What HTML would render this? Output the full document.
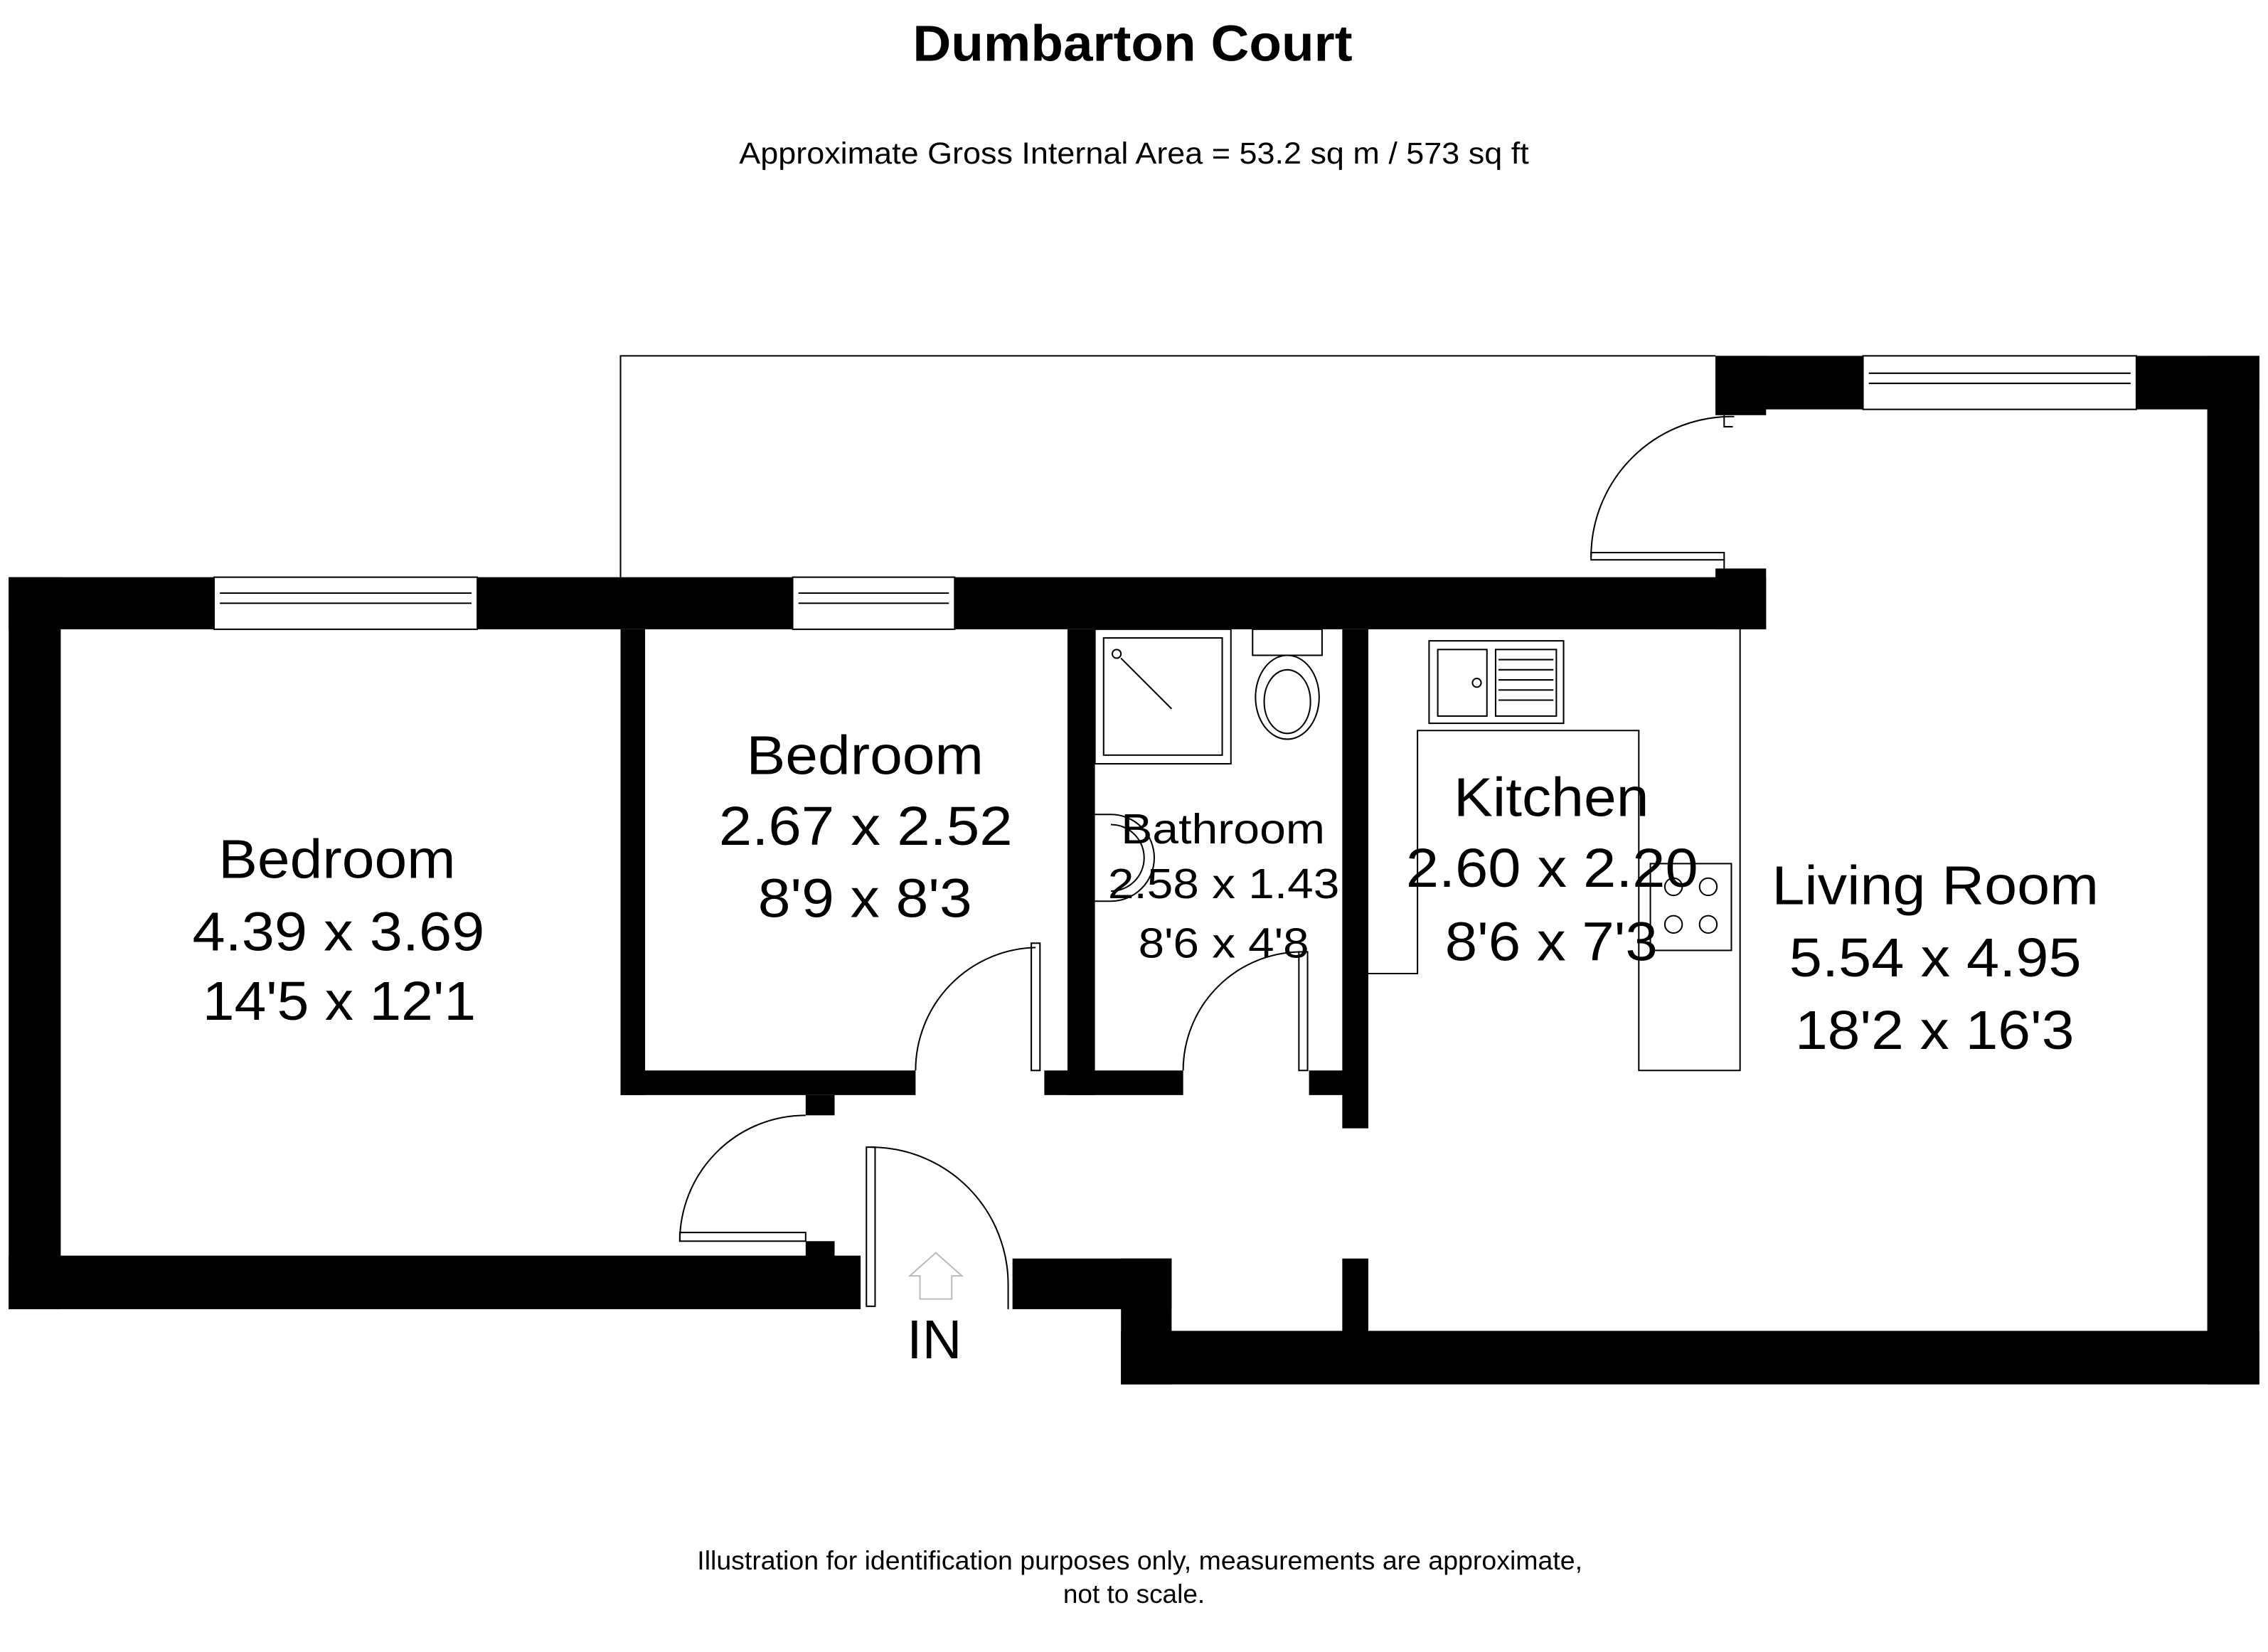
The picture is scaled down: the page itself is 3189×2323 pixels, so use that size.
<!DOCTYPE html>
<html><head><meta charset="utf-8"><style>html,body{margin:0;padding:0;background:#fff}svg{display:block}</style></head><body>
<svg width="3189" height="2323" viewBox="0 0 1568 1142" preserveAspectRatio="none" xmlns="http://www.w3.org/2000/svg" font-family="Liberation Sans, sans-serif">
<rect width="1568" height="1142" fill="#fff"/>
<text x="631" y="42" font-size="35" font-weight="bold" textLength="304" lengthAdjust="spacingAndGlyphs">Dumbarton Court</text>
<text x="511" y="113" font-size="21" textLength="546" lengthAdjust="spacingAndGlyphs">Approximate Gross Internal Area = 53.2 sq m / 573 sq ft</text>
<text x="482" y="1085" font-size="18" textLength="612" lengthAdjust="spacingAndGlyphs">Illustration for identification purposes only, measurements are approximate,</text>
<text x="735" y="1108" font-size="18" textLength="98" lengthAdjust="spacingAndGlyphs">not to scale.</text>
<path d="M429 399 V246 H1186" fill="none" stroke="#000" stroke-width="1"/>
<g fill="#000">
<rect x="6" y="399" width="1215" height="36"/>
<rect x="1186" y="393" width="35" height="42"/>
<rect x="6" y="399" width="36" height="506"/>
<rect x="6" y="868" width="589" height="37"/>
<rect x="557" y="858" width="20" height="12"/>
<rect x="700" y="870" width="110" height="35"/>
<rect x="775" y="870" width="35" height="87"/>
<rect x="775" y="920" width="787" height="37"/>
<rect x="1526" y="246" width="36" height="711"/>
<rect x="1186" y="246" width="376" height="37"/>
<rect x="1186" y="246" width="35" height="41"/>
<rect x="429" y="435" width="17" height="322"/>
<rect x="429" y="740" width="204" height="17"/>
<rect x="722" y="740" width="96" height="17"/>
<rect x="738" y="435" width="19" height="322"/>
<rect x="928" y="435" width="18" height="345"/>
<rect x="905" y="740" width="30" height="17"/>
<rect x="928" y="870" width="18" height="52"/>
<rect x="557" y="757" width="20" height="14"/>
</g>
<g fill="#fff" stroke="#000" stroke-width="1">
<rect x="148" y="399" width="182" height="36"/>
<rect x="548" y="399" width="112" height="36"/>
<rect x="1288" y="246" width="189" height="37"/>
</g>
<g stroke="#000" stroke-width="1">
<line x1="152" y1="410" x2="326" y2="410"/><line x1="152" y1="417" x2="326" y2="417"/>
<line x1="552" y1="410" x2="656" y2="410"/><line x1="552" y1="417" x2="656" y2="417"/>
<line x1="1292" y1="258" x2="1473" y2="258"/><line x1="1292" y1="265" x2="1473" y2="265"/>
</g>
<g fill="none" stroke="#000" stroke-width="1">
<path d="M1192 287 V295 H1198 M1199 288 A97 97 0 0 0 1100 385"/>
<rect x="1100" y="382" width="92" height="5"/>
<path d="M1192 387 V393"/>
<path d="M633 740 A85 85 0 0 1 716 655"/><rect x="713" y="652" width="6" height="88"/>
<path d="M818 740 A82 82 0 0 1 900 658"/><rect x="898" y="658" width="6" height="82"/>
<path d="M557 771 A87 87 0 0 0 470 858"/><rect x="470" y="852" width="87" height="6"/>
<path d="M602 793 A95 95 0 0 1 697 888 V905"/><rect x="599" y="793" width="6" height="110"/>
</g>
<path d="M636 898 V882 H629 L647 866 L665 882 H658 V898 Z" fill="none" stroke="#bbb" stroke-width="1"/>
<g fill="none" stroke="#000" stroke-width="1">
<rect x="757" y="435" width="94" height="93"/><rect x="763" y="441" width="82" height="81"/>
<circle cx="772" cy="452" r="3"/><line x1="775" y1="455" x2="810" y2="490"/>
<rect x="866" y="435" width="48" height="18"/><ellipse cx="890" cy="482" rx="22" ry="29"/><ellipse cx="890" cy="485" rx="16" ry="22"/>
<path d="M757 563 H768 A30 30 0 0 1 768 623 H757"/><path d="M768 570 A22 22 0 0 1 768 616"/>
<path d="M946 673 H980 V505 H1133 V740 H1203 V435"/>
<rect x="988" y="443" width="93" height="57"/><rect x="994" y="449" width="34" height="46"/><rect x="1034" y="449" width="42" height="46"/>
<circle cx="1021" cy="472" r="3"/>
<line x1="1036" y1="456" x2="1074" y2="456"/><line x1="1036" y1="463" x2="1074" y2="463"/><line x1="1036" y1="470" x2="1074" y2="470"/><line x1="1036" y1="477" x2="1074" y2="477"/><line x1="1036" y1="484" x2="1074" y2="484"/>
<rect x="1141" y="597" width="56" height="60"/>
<circle cx="1157" cy="613" r="6"/><circle cx="1181" cy="613" r="6"/><circle cx="1157" cy="639" r="6"/><circle cx="1181" cy="639" r="6"/>
</g>
<g fill="#000" lengthAdjust="spacingAndGlyphs">
<g font-size="38">
<text x="151" y="607" textLength="164" lengthAdjust="spacingAndGlyphs">Bedroom</text>
<text x="133" y="657" textLength="202" lengthAdjust="spacingAndGlyphs">4.39 x 3.69</text>
<text x="140" y="705" textLength="189" lengthAdjust="spacingAndGlyphs">14'5 x 12'1</text>
<text x="516" y="535" textLength="164" lengthAdjust="spacingAndGlyphs">Bedroom</text>
<text x="497" y="584" textLength="203" lengthAdjust="spacingAndGlyphs">2.67 x 2.52</text>
<text x="524" y="634" textLength="148" lengthAdjust="spacingAndGlyphs">8'9 x 8'3</text>
<text x="1005" y="564" textLength="135" lengthAdjust="spacingAndGlyphs">Kitchen</text>
<text x="972" y="613" textLength="202" lengthAdjust="spacingAndGlyphs">2.60 x 2.20</text>
<text x="999" y="664" textLength="147" lengthAdjust="spacingAndGlyphs">8'6 x 7'3</text>
<text x="1225" y="625" textLength="226" lengthAdjust="spacingAndGlyphs">Living Room</text>
<text x="1237" y="675" textLength="202" lengthAdjust="spacingAndGlyphs">5.54 x 4.95</text>
<text x="1241" y="725" textLength="193" lengthAdjust="spacingAndGlyphs">18'2 x 16'3</text>
<text x="627" y="939" textLength="38" lengthAdjust="spacingAndGlyphs">IN</text>
</g>
<g font-size="29">
<text x="775" y="583" textLength="141" lengthAdjust="spacingAndGlyphs">Bathroom</text>
<text x="766" y="621" textLength="160" lengthAdjust="spacingAndGlyphs">2.58 x 1.43</text>
<text x="787" y="662" textLength="118" lengthAdjust="spacingAndGlyphs">8'6 x 4'8</text>
</g>
</g>
</svg>
</body></html>
